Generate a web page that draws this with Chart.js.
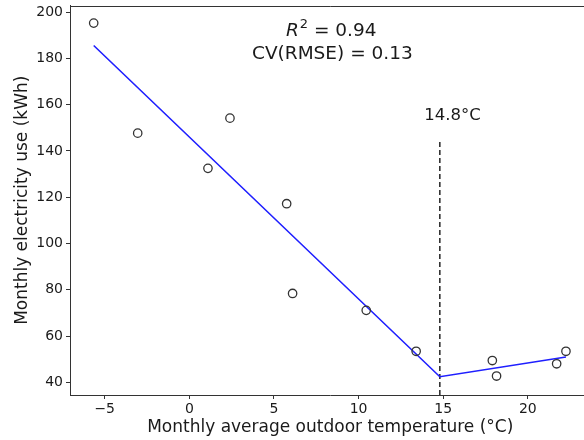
<!DOCTYPE html>
<html>
<head>
<meta charset="utf-8">
<script src="https://cdn.jsdelivr.net/npm/chart.js@4.4.1/dist/chart.umd.min.js"></script>
<style>
  html, body { margin: 0; background: #fff; overflow: hidden; }
  /* the original figure is cut off on the right, so the canvas is a bit wider than the view */
  #wrap { width: 584px; height: 440px; overflow: hidden; }
</style>
</head>
<body>
<div id="wrap"><canvas id="chart" width="596" height="440"></canvas></div>
<script>
// Monthly readings: average outdoor temperature (°C) vs electricity use (kWh)
const temperatures = [-5.65, -3.05, 1.1, 2.4, 5.75, 6.1, 10.45, 13.4, 17.9, 18.15, 21.7, 22.25];
const consumption = [195.3, 147.7, 132.5, 154.2, 117.2, 78.4, 71.1, 53.4, 49.4, 42.7, 48.0, 53.4];

// Change-point model (two segments)
const fitTemps = [-5.65, 14.8, 22.25];
const fitValues = [185.6, 42.4, 50.9];
const breakTemp = 14.8;
const breakLineTop = 144;

const xTicks = [-5, 0, 5, 10, 15, 20];
const yTicks = [40, 60, 80, 100, 120, 140, 160, 180, 200];
const xRange = [-7.05, 23.7];
const yRange = [34.5, 202.9];

const r2 = '0.94';
const cvRmse = '0.13';

const FONT = "'DejaVu Sans', sans-serif";
const INK = '#1a1a1a';

// -------------------------------
// Texts + top/right border
// -------------------------------
const annotations = {
  id: 'annotations',
  afterDraw(chart) {
    const { ctx, chartArea, scales: { x, y } } = chart;
    ctx.save();

    // spines
    const top = Math.round(chartArea.top) + 0.5;
    const right = Math.round(chartArea.right) - 0.5;
    ctx.strokeStyle = '#333';
    ctx.lineWidth = 1;
    ctx.beginPath();
    ctx.moveTo(chartArea.left, top);
    ctx.lineTo(right, top);
    ctx.lineTo(right, chartArea.bottom);
    ctx.stroke();

    ctx.fillStyle = INK;
    ctx.textBaseline = 'middle';
    ctx.textAlign = 'left';

    // R² = 0.94
    const cx = x.getPixelForValue(8.35);
    const y1 = y.getPixelForValue(191.6);
    const fMain = '18.5px ' + FONT;
    const fItal = 'italic 18.5px ' + FONT;
    const fSup = '13px ' + FONT;
    ctx.font = fItal; const wR = ctx.measureText('R').width;
    ctx.font = fSup; const w2 = ctx.measureText('2').width;
    ctx.font = fMain; const wRest = ctx.measureText(' = ' + r2).width;
    let px = cx - (wR + w2 + wRest) / 2;
    ctx.font = fItal; ctx.fillText('R', px, y1); px += wR + 1;
    ctx.font = fSup; ctx.fillText('2', px, y1 - 7); px += w2;
    ctx.font = fMain; ctx.fillText(' = ' + r2, px, y1);

    // CV(RMSE)
    ctx.textAlign = 'center';
    ctx.fillText('CV(RMSE) = ' + cvRmse, x.getPixelForValue(8.45), y.getPixelForValue(181.7));

    // change point label
    ctx.font = '16.5px ' + FONT;
    ctx.fillText(breakTemp.toFixed(1) + '°C', x.getPixelForValue(15.55), y.getPixelForValue(155.2));

    ctx.restore();
  }
};

const tickFont = { family: FONT, size: 14 };
const titleFont = { family: FONT, size: 17 };

const ctx = document.getElementById('chart').getContext('2d');
new Chart(ctx, {
  type: 'scatter',
  data: {
    datasets: [
      {
        label: 'Measured',
        data: temperatures.map((t, i) => ({ x: t, y: consumption[i] })),
        pointRadius: 4.2,
        pointBorderWidth: 1.3,
        pointBorderColor: '#333',
        pointBackgroundColor: 'rgba(0,0,0,0)',
        showLine: false,
        order: 1
      },
      {
        label: 'Fit',
        data: fitTemps.map((t, i) => ({ x: t, y: fitValues[i] })),
        showLine: true,
        borderColor: '#1f1fff',
        borderWidth: 1.6,
        pointRadius: 0,
        tension: 0,
        order: 2
      },
      {
        label: 'Change point',
        data: [{ x: breakTemp, y: yRange[0] }, { x: breakTemp, y: breakLineTop }],
        showLine: true,
        borderColor: '#000',
        borderWidth: 1.3,
        borderDash: [5, 3],
        pointRadius: 0,
        order: 3
      }
    ]
  },
  options: {
    responsive: false,
    animation: false,
    layout: { padding: { top: 4, right: 1, left: 0, bottom: 0 } },
    plugins: {
      legend: { display: false },
      tooltip: { enabled: false }
    },
    scales: {
      x: {
        type: 'linear',
        min: xRange[0],
        max: xRange[1],
        afterBuildTicks: s => { s.ticks = xTicks.map(v => ({ value: v })); },
        afterFit: s => { s.height = 45; s.paddingLeft = 0; s.paddingRight = 0; },
        grid: { drawOnChartArea: false, drawTicks: true, tickLength: 4, tickColor: '#333' },
        border: { color: '#333', width: 1 },
        ticks: {
          font: tickFont,
          color: INK,
          padding: 2,
          maxRotation: 0,
          callback: v => String(v).replace('-', '\u2212')
        },
        title: {
          display: true,
          text: 'Monthly average outdoor temperature (°C)',
          font: titleFont,
          color: INK,
          padding: { top: 0, bottom: 2 }
        }
      },
      y: {
        min: yRange[0],
        max: yRange[1],
        afterBuildTicks: s => { s.ticks = yTicks.map(v => ({ value: v })); },
        afterFit: s => { s.width = 70; s.paddingTop = 0; s.paddingBottom = 0; },
        grid: { drawOnChartArea: false, drawTicks: true, tickLength: 4, tickColor: '#333' },
        border: { color: '#333', width: 1 },
        ticks: { font: tickFont, color: INK, padding: 3 },
        title: {
          display: true,
          text: 'Monthly electricity use (kWh)',
          font: titleFont,
          color: INK,
          padding: { top: 12, bottom: 0 }
        }
      }
    }
  },
  plugins: [annotations]
});
</script>
</body>
</html>
